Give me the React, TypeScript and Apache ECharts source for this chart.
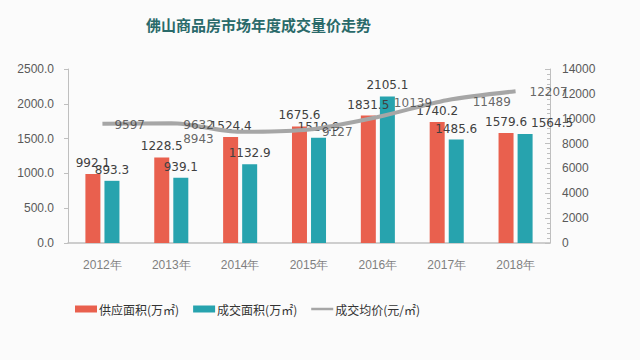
import React, { useEffect, useRef } from "react";
import * as echarts from "echarts";

const categories = ["2012年", "2013年", "2014年", "2015年", "2016年", "2017年", "2018年"];
const supplyArea = [992.1, 1228.5, 1524.4, 1675.6, 1831.5, 1740.2, 1579.6];
const dealArea = [893.3, 939.1, 1132.9, 1510.9, 2105.1, 1485.6, 1564.5];
const avgPrice = [9597, 9632, 8943, 9127, 10139, 11489, 12207];
const seriesNames = ["供应面积(万㎡)", "成交面积(万㎡)", "成交均价(元/㎡)"];

// label anchor relative to each price point (left edge, vertical middle)
const priceLabelPos: [number, number][] = [
  [12, 1], [12, 2], [-57, 7], [13, 2], [16, -14], [26, 2], [14, 1],
];

export default function App() {
  const ref = useRef<HTMLDivElement>(null);
  useEffect(() => {
    if (!ref.current) return;
    const chart = echarts.init(ref.current, null, { renderer: "svg" });
    const labelStyle = { color: "#404040", fontSize: 12, fontFamily: "DejaVu Sans" };
    chart.setOption({
      animation: false,
      backgroundColor: "#fbfbfb",
      title: {
        text: "佛山商品房市场年度成交量价走势",
        left: 141,
        top: 12,
        textStyle: { color: "#2a6a6a", fontSize: 15, fontWeight: "bold", fontFamily: "Noto Sans CJK SC" },
      },
      legend: {
        left: 75,
        top: 303,
        padding: 0,
        itemWidth: 22,
        itemHeight: 7,
        itemGap: 14,
        textStyle: { color: "#333", fontSize: 12, fontFamily: "Noto Sans CJK SC", padding: [0, 0, 0, -3] },
        data: [
          { name: seriesNames[0], icon: "rect" },
          { name: seriesNames[1], icon: "rect" },
          {
            name: seriesNames[2],
            icon: "path://M0,0L22,0L22,0.05L0,0.05ZM0,2.3L22,2.3L22,4.7L0,4.7ZM0,6.95L22,6.95L22,7L0,7Z",
          },
        ],
      },
      grid: { left: 68, right: 90, top: 69, bottom: 117 },
      xAxis: {
        type: "category",
        data: categories,
        axisLine: { lineStyle: { color: "#bfbfbf", width: 1.5 } },
        axisTick: { show: false },
        axisLabel: { color: "#7f7f7f", fontSize: 12, margin: 16 },
      },
      yAxis: [
        {
          type: "value",
          min: 0,
          max: 2500,
          interval: 500,
          axisLine: { show: true, lineStyle: { color: "#bfbfbf" } },
          axisTick: { show: true, length: 4, lineStyle: { color: "#bfbfbf" } },
          splitLine: { show: false },
          axisLabel: {
            color: "#595959",
            fontSize: 12,
            margin: 14,
            formatter: (v: number) => v.toFixed(1),
          },
        },
        {
          type: "value",
          min: 0,
          max: 14000,
          interval: 2000,
          position: "right",
          axisLine: { show: true, lineStyle: { color: "#bfbfbf" } },
          axisTick: { show: true, inside: true, length: 5, lineStyle: { color: "#bfbfbf" } },
          minorTick: { show: true, splitNumber: 5, length: 3, lineStyle: { color: "#bfbfbf" } },
          splitLine: { show: false },
          axisLabel: { color: "#595959", fontSize: 12, margin: 12, formatter: (v: number) => String(v) },
        },
      ],
      series: [
        {
          name: seriesNames[0],
          type: "bar",
          data: supplyArea,
          barWidth: 15,
          barGap: "27%",
          itemStyle: { color: "#e9604e" },
          label: { show: true, position: "top", ...labelStyle, formatter: (p: any) => p.value.toFixed(1) },
        },
        {
          name: seriesNames[1],
          type: "bar",
          data: dealArea.map((v, i) =>
            i === 6 ? { value: v, label: { offset: [27, 0] } } : v
          ),
          barWidth: 15,
          itemStyle: { color: "#27a3ae" },
          label: { show: true, position: "top", ...labelStyle, formatter: (p: any) => p.value.toFixed(1) },
        },
        {
          name: seriesNames[2],
          type: "line",
          yAxisIndex: 1,
          data: avgPrice,
          smooth: 0.3,
          symbol: "none",
          lineStyle: { color: "#a6a6a6", width: 4 },
          itemStyle: { color: "#a6a6a6" },
          z: 5,
        },
        {
          name: "priceLabels",
          type: "scatter",
          yAxisIndex: 1,
          data: avgPrice.map((v, i) => ({ value: v, label: { position: priceLabelPos[i] } })),
          symbolSize: 0,
          silent: true,
          label: {
            show: true,
            align: "left",
            verticalAlign: "middle",
            ...labelStyle,
            formatter: (p: any) => String(p.value),
          },
          z: 6,
        },
      ],
    });
    return () => chart.dispose();
  }, []);
  return <div ref={ref} style={{ width: 640, height: 360, position: "absolute", left: 0, top: 0 }} />;
}
